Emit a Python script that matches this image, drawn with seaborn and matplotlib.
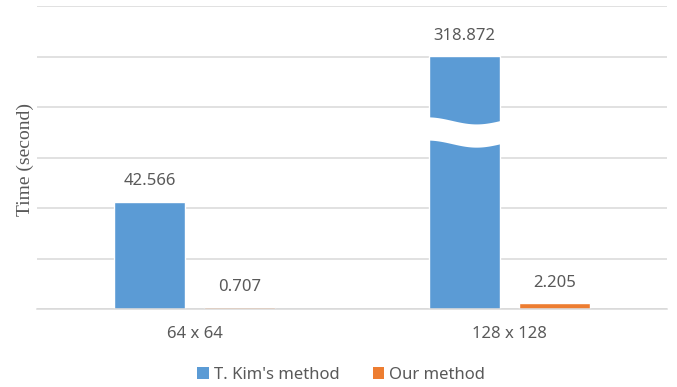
import numpy as np
import pandas as pd
import matplotlib
matplotlib.use("Agg")
import matplotlib.pyplot as plt
from matplotlib.patches import Patch
import seaborn as sns

# ---- data -------------------------------------------------------------
sizes = ["64 x 64", "128 x 128"]
methods = ["T. Kim's method", "Our method"]
kim_times = [42.566, 318.872]
our_times = [0.707, 2.205]
colors = ["#5B9BD5", "#ED7D31"]

df = pd.DataFrame({
    "size": sizes * 2,
    "method": [methods[0]] * 2 + [methods[1]] * 2,
    "time": kim_times + our_times,
})

# ---- broken value axis: values above BREAK are squeezed -------------
BREAK = 70.0
SQUEEZE = 0.12055


def fwd(y):
    y = np.asarray(y, dtype=float)
    return np.where(y <= BREAK, y, BREAK + (y - BREAK) * SQUEEZE)


def inv(d):
    d = np.asarray(d, dtype=float)
    return np.where(d <= BREAK, d, BREAK + (d - BREAK) / SQUEEZE)


TEXT = "#595959"
GRID = "#D9D9D9"

sns.set_theme(style="white")
plt.rcParams["font.family"] = ["Noto Sans", "DejaVu Sans"]
plt.rcParams["text.color"] = TEXT
plt.rcParams["axes.labelcolor"] = TEXT
plt.rcParams["xtick.color"] = TEXT

fig = plt.figure(figsize=(6.77, 3.87), dpi=100)
ax = fig.add_axes([37 / 677, 1 - 309 / 387, 630 / 677, 303 / 387])

sns.barplot(data=df, x="size", y="time", hue="method", hue_order=methods,
            palette=colors, saturation=1, width=0.571, gap=0.21,
            legend=False, ax=ax, zorder=2)

ax.set_yscale("function", functions=(fwd, inv))
grid_levels = np.arange(0, 121, 20)
ax.set_yticks(inv(grid_levels))
ax.set_ylim(0, float(inv(120)))
ax.set_xlim(-0.5, 1.5)
ax.yaxis.grid(True, color=GRID, linewidth=1.1, zorder=0)
ax.set_axisbelow(True)
ax.tick_params(axis="y", length=0, labelleft=False)

# x axis: labels centred, tick marks between categories
ax.tick_params(axis="x", which="major", length=0, pad=12, labelsize=12,
               labelcolor=TEXT)
ax.set_xticks([-0.5, 0.5, 1.5], minor=True)
ax.tick_params(axis="x", which="minor", length=5, width=1, color=GRID,
               direction="out")
ax.set_xlabel("")
ax.set_ylabel("")

for side in ["top", "right", "left"]:
    ax.spines[side].set_visible(False)
ax.spines["bottom"].set_color(GRID)
ax.spines["bottom"].set_linewidth(1.1)

# value labels from the bar heights
for cont in ax.containers:
    ax.bar_label(cont, fmt="%.3f", padding=9, fontsize=12, color=TEXT)

# wavy white gap across the bar that exceeds the break
for bar in ax.containers[0]:
    if bar.get_height() > BREAK:
        x0 = bar.get_x() - 0.004
        x1 = bar.get_x() + bar.get_width() + 0.004
        t = np.linspace(0, 1, 80)
        xs = x0 + (x1 - x0) * t
        wave = 1.4 * np.sin(np.pi * (1.5 * t - 0.5))
        top = 74.5 - wave
        bottom = 65.3 - wave
        poly_x = np.concatenate([xs, xs[::-1]])
        poly_y = np.concatenate([inv(top), inv(bottom[::-1])])
        ax.fill(poly_x, poly_y, color="white", zorder=3, linewidth=0)

fig.text(25 / 677, 1 - 160 / 387, "Time (second)", rotation=90,
         ha="center", va="center", fontsize=14, color=TEXT,
         family=["Liberation Serif", "DejaVu Serif"])

handles = [Patch(facecolor=c, edgecolor="none") for c in colors]
fig.legend(handles, methods, loc="center", bbox_to_anchor=(0.504, 0.031),
           ncol=2, frameon=False, fontsize=12, handlelength=0.7,
           handleheight=0.7, handletextpad=0.3, columnspacing=2.0,
           labelcolor=TEXT)

fig.savefig("out.png", dpi=100)
